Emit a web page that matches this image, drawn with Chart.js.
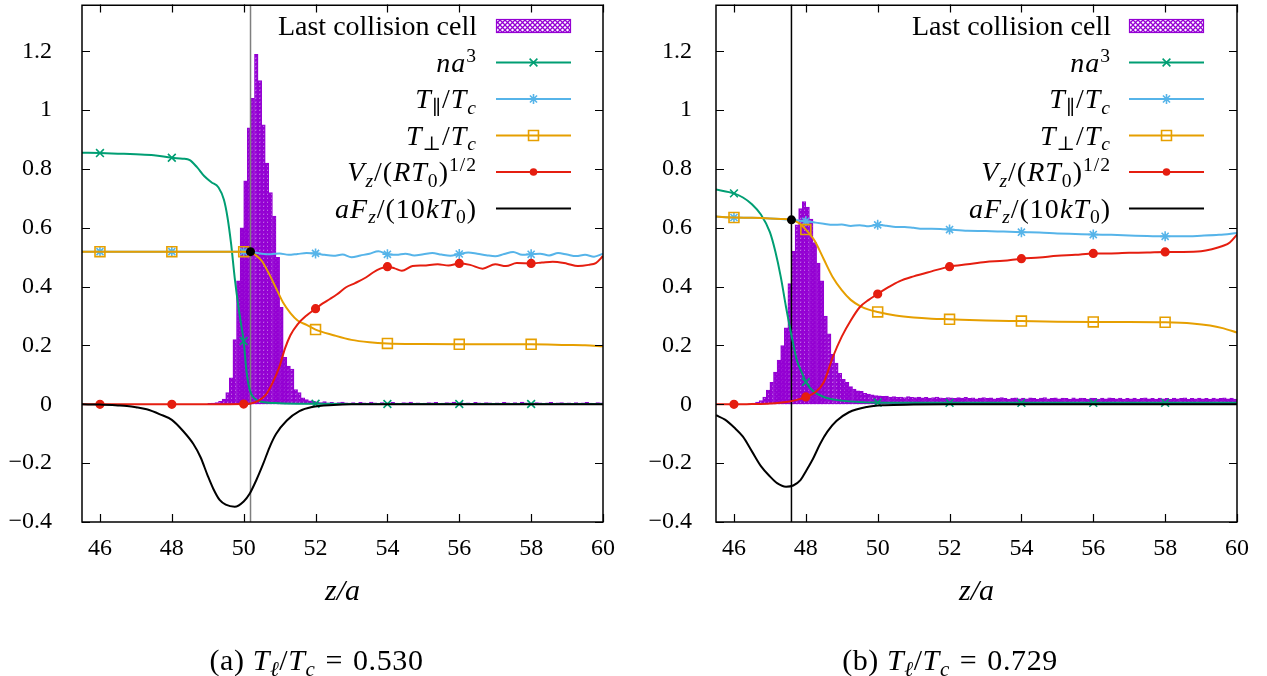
<!DOCTYPE html>
<html><head><meta charset="utf-8">
<script src="https://cdn.jsdelivr.net/npm/chart.js@4.4.1/dist/chart.umd.min.js"></script>
<style>
html,body{margin:0;padding:0;background:#fff;}
body{width:1267px;height:676px;position:relative;overflow:hidden;font-family:"Liberation Serif","DejaVu Serif",serif;color:#000;}
.panel{position:absolute;top:0;height:676px;}
#p1{left:0;width:633px;} #p2{left:633px;width:634px;}
.panel canvas{position:absolute;left:0;top:0;}
.leg{position:absolute;right:156px;height:30px;line-height:30px;white-space:nowrap;font-size:28px;text-align:right;}
.leg.m{letter-spacing:1px;}
.cap{position:absolute;left:0;right:0;top:642px;height:36px;line-height:36px;text-align:center;font-size:30px;white-space:nowrap;letter-spacing:0.6px;}
.cap .eq{display:inline-block;margin:0 10px;}
sub,sup{font-size:70%;line-height:0;position:relative;vertical-align:baseline;}
sup{top:-0.5em;} sub{top:0.3em;}
</style>
</head><body>
<div class="panel" id="p1"><canvas id="c1" width="633" height="676" style="width:633px;height:676px"></canvas></div>
<div class="panel" id="p2"><canvas id="c2" width="634" height="676" style="width:634px;height:676px"></canvas></div>
<script>
// ---------- axis ticks ----------
const xTickValues = [46,48,50,52,54,56,58,60];
const yTickValues = [-0.4,-0.2,0,0.2,0.4,0.6,0.8,1,1.2];
const markerZ = [46,48,50,52,54,56,58];
const xMin = 45.5, xMax = 60, yMin = -0.4, yMax = 1.359;

// ---------- legend / captions ----------
const legendLabels = [
  'Last collision cell',
  '<i>na</i><sup>3</sup>',
  '<i>T</i><sub>∥</sub>/<i>T<sub>c</sub></i>',
  '<i>T</i><sub>⊥</sub>/<i>T<sub>c</sub></i>',
  '<i>V<sub>z</sub></i>/(<i>RT</i><sub>0</sub>)<sup>1/2</sup>',
  '<i>aF<sub>z</sub></i>/(10<i>kT</i><sub>0</sub>)'
];
const captions = [
  '(a)&nbsp;<i>T</i><sub><i>ℓ</i></sub>/<i>T<sub>c</sub></i><span class="eq">=</span>0.530',
  '(b)&nbsp;<i>T</i><sub><i>ℓ</i></sub>/<i>T<sub>c</sub></i><span class="eq">=</span>0.729'
];

// ---------- histogram (bin width 0.1) ----------
const histBin = 0.1;
const leftHistStart = 49.0;
const leftHist = [
 0.003,0.004,0.006,0.010,0.018,0.040,0.090,0.220,0.420,0.600,
 0.760,0.940,1.040,1.190,1.100,0.950,0.820,0.720,0.640,0.500,
 0.330,0.160,0.130,0.120,0.050,0.040,0.022,0.016,0.012,0.010,
 0.008,0.006,0.009,0.005,0.007,0.004,0.006,0.008,0.005,0.004,
 0.006,0.003,0.007,0.005,0.004,0.008,0.005,0.003,0.006,0.004,
 0.005,0.007,0.004,0.003,0.006,0.005,0.008,0.004,0.005,0.003,
 0.004,0.006,0.005,0.007,0.003,0.004,0.006,0.005,0.008,0.004,
 0.006,0.004,0.005,0.003,0.007,0.005,0.004,0.006,0.005,0.003,
 0.005,0.004,0.007,0.005,0.003,0.006,0.004,0.008,0.005,0.004,
 0.004,0.006,0.005,0.003,0.005,0.007,0.004,0.005,0.006,0.004,
 0.005,0.003,0.006,0.004,0.005,0.007,0.004,0.003,0.006,0.005
];
const rightHistStart = 46.4;
const rightHist = [
 0.002,0.004,0.008,0.013,0.025,0.048,0.075,0.110,0.150,0.200,
 0.260,0.410,0.520,0.610,0.665,0.689,0.670,0.630,0.550,0.480,
 0.420,0.300,0.240,0.170,0.140,0.105,0.085,0.075,0.060,0.052,
 0.046,0.044,0.037,0.035,0.032,0.030,
 0.029,0.027,0.028,0.025,0.026,0.024,0.025,0.023,0.026,0.024,
 0.023,0.025,0.022,0.024,0.021,0.023,0.025,0.022,0.020,0.023,
 0.022,0.020,0.023,0.021,0.024,0.020,0.022,0.019,0.021,0.023,
 0.020,0.022,0.019,0.021,0.023,0.020,0.018,0.021,0.022,0.019,
 0.021,0.019,0.022,0.020,0.018,0.021,0.023,0.019,0.020,0.022,
 0.019,0.021,0.020,0.018,0.022,0.019,0.021,0.020,0.018,0.021,
 0.020,0.018,0.021,0.019,0.022,0.020,0.019,0.021,0.018,0.020,
 0.019,0.021,0.018,0.020,0.022,0.019,0.020,0.018,0.021,0.019,
 0.020,0.018,0.021,0.019,0.020,0.022,0.018,0.020,0.019,0.021,
 0.019,0.020,0.018,0.021,0.019,0.020,0.022,0.019,0.021,0.018
];

// ---------- panel (a) series [z/a, value] ----------
const leftNa3 = [[45.5,0.855],[46,0.854],[46.5,0.852],[47,0.85],[47.5,0.847],[48,0.838],[48.3,0.835],[48.5,0.83],[48.7,0.806],[48.9,0.776],[49.1,0.755],[49.3,0.737],[49.45,0.695],[49.55,0.635],[49.65,0.545],[49.75,0.43],[49.85,0.335],[49.93,0.27],[50,0.215],[50.08,0.11],[50.17,0.048],[50.3,0.02],[50.5,0.009],[51,0.004],[52,0.002],[53,0.001],[54,0.001],[55,0.001],[56,0.001],[57,0.001],[58,0.001],[59,0.001],[60,0.001]];
const leftTpar = [[45.5,0.519],[46,0.519],[47,0.519],[48,0.519],[49,0.519],[50,0.519],[50.2,0.517],[50.35,0.515],[50.5,0.512],[50.75,0.51],[51,0.513],[51.25,0.508],[51.5,0.511],[51.75,0.514],[52,0.513],[52.25,0.508],[52.5,0.505],[52.75,0.509],[53,0.5],[53.25,0.506],[53.5,0.512],[53.75,0.52],[54,0.51],[54.25,0.508],[54.5,0.512],[54.75,0.506],[55,0.51],[55.25,0.514],[55.5,0.509],[55.75,0.505],[56,0.511],[56.25,0.516],[56.5,0.512],[56.75,0.507],[57,0.503],[57.25,0.511],[57.5,0.518],[57.75,0.508],[58,0.51],[58.25,0.512],[58.5,0.506],[58.75,0.514],[59,0.509],[59.25,0.504],[59.5,0.508],[59.75,0.502],[60,0.512]];
const leftTperp = [[45.5,0.519],[46,0.519],[47,0.519],[48,0.519],[49,0.519],[50,0.519],[50.2,0.518],[50.3,0.51],[50.5,0.488],[50.7,0.445],[50.9,0.395],[51.1,0.345],[51.3,0.31],[51.5,0.285],[51.75,0.27],[52,0.254],[52.5,0.235],[53,0.219],[53.5,0.211],[54,0.207],[55,0.205],[56,0.204],[57,0.204],[58,0.204],[59,0.202],[59.5,0.201],[60,0.197]];
const leftVz = [[45.5,0],[46,0],[47,0],[48,0],[49,0],[49.5,0.0005],[50,0.001],[50.2,0.003],[50.4,0.012],[50.6,0.03],[50.8,0.072],[51,0.13],[51.15,0.19],[51.3,0.235],[51.5,0.272],[51.75,0.302],[52,0.325],[52.2,0.343],[52.4,0.358],[52.6,0.374],[52.85,0.398],[53.1,0.412],[53.4,0.431],[53.6,0.448],[53.8,0.461],[54,0.468],[54.2,0.462],[54.4,0.454],[54.7,0.47],[55,0.472],[55.4,0.476],[55.7,0.472],[56,0.479],[56.3,0.474],[56.65,0.461],[57,0.476],[57.3,0.47],[57.6,0.48],[58,0.479],[58.3,0.482],[58.6,0.485],[59,0.478],[59.3,0.47],[59.6,0.474],[59.8,0.48],[60,0.504]];
const leftFz = [[45.5,0],[46,-0.001],[46.5,-0.004],[46.75,-0.006],[47,-0.01],[47.3,-0.017],[47.67,-0.034],[48,-0.053],[48.3,-0.089],[48.6,-0.135],[48.8,-0.18],[49,-0.243],[49.15,-0.286],[49.33,-0.325],[49.5,-0.341],[49.75,-0.348],[50,-0.33],[50.17,-0.303],[50.35,-0.258],[50.55,-0.2],[50.72,-0.146],[50.9,-0.101],[51.2,-0.055],[51.55,-0.023],[51.9,-0.009],[52.5,-0.002],[53,0],[60,0]];
const leftCut = [50.19, 0.519];

// ---------- panel (b) series ----------
const rightNa3 = [[45.5,0.73],[46,0.717],[46.25,0.703],[46.5,0.68],[46.75,0.645],[47,0.585],[47.15,0.52],[47.3,0.435],[47.45,0.33],[47.6,0.235],[47.75,0.15],[47.9,0.105],[48,0.076],[48.2,0.045],[48.5,0.025],[48.8,0.016],[49.2,0.01],[50,0.006],[51,0.005],[52,0.005],[53,0.005],[54,0.005],[55,0.005],[56,0.005],[57,0.005],[58,0.005],[59,0.005],[60,0.005]];
const rightTpar = [[45.5,0.638],[46,0.635],[46.5,0.634],[47,0.632],[47.3,0.63],[47.6,0.627],[47.8,0.625],[48,0.622],[48.25,0.618],[48.5,0.614],[48.75,0.61],[49,0.611],[49.25,0.606],[49.5,0.609],[49.75,0.605],[50,0.61],[50.25,0.607],[50.5,0.603],[50.75,0.603],[51,0.6],[51.25,0.597],[51.5,0.597],[51.75,0.596],[52,0.594],[52.5,0.59],[53,0.589],[53.5,0.587],[54,0.585],[54.5,0.584],[55,0.581],[55.5,0.579],[56,0.577],[56.5,0.576],[57,0.574],[57.5,0.572],[58,0.571],[58.5,0.571],[59,0.573],[59.5,0.576],[60,0.582]];
const rightTperp = [[45.5,0.638],[46,0.635],[46.5,0.634],[47,0.632],[47.3,0.63],[47.6,0.627],[47.8,0.617],[47.9,0.607],[48,0.594],[48.1,0.58],[48.25,0.555],[48.5,0.493],[48.75,0.432],[49,0.388],[49.25,0.355],[49.5,0.335],[49.75,0.322],[50,0.314],[50.5,0.302],[51,0.295],[51.5,0.291],[52,0.289],[53,0.285],[54,0.283],[55,0.281],[56,0.28],[57,0.28],[58,0.279],[58.75,0.275],[59.25,0.268],[59.6,0.259],[60,0.244]];
const rightVz = [[45.5,0],[46,0],[46.5,0.001],[47,0.003],[47.5,0.009],[47.75,0.015],[48,0.025],[48.25,0.04],[48.5,0.075],[48.75,0.16],[49,0.23],[49.25,0.285],[49.5,0.33],[49.75,0.355],[50,0.375],[50.3,0.398],[50.6,0.418],[51,0.435],[51.5,0.452],[52,0.468],[52.5,0.476],[53,0.484],[53.5,0.488],[54,0.495],[54.5,0.499],[55,0.505],[55.5,0.508],[56,0.513],[56.5,0.513],[57,0.515],[57.5,0.516],[58,0.518],[58.5,0.518],[59,0.52],[59.3,0.527],[59.6,0.538],[59.8,0.55],[60,0.577]];
const rightFz = [[45.5,-0.037],[45.75,-0.052],[46,-0.078],[46.25,-0.11],[46.5,-0.16],[46.75,-0.21],[47,-0.245],[47.2,-0.268],[47.45,-0.28],[47.65,-0.276],[47.85,-0.258],[48,-0.228],[48.2,-0.185],[48.4,-0.134],[48.6,-0.093],[48.85,-0.057],[49.2,-0.027],[49.7,-0.009],[50.2,-0.003],[51,-0.001],[52,0],[54,0],[56,0],[58,0],[60,0]];
const rightCut = [47.6, 0.627];

// ---------- styles ----------
const C = {hist:'#9400D3', na3:'#009E73', tpar:'#56B4E9', tperp:'#E69F00', vz:'#E51E10', fz:'#000000'};
const FONT = '"Liberation Serif","DejaVu Serif",serif';
Chart.defaults.font.family = FONT;
Chart.defaults.color = '#000';

function hatchPattern(ctx, bg, n, lw){
  const c = document.createElement('canvas'); c.width = n; c.height = n;
  const g = c.getContext('2d');
  g.fillStyle = bg; g.fillRect(0,0,n,n);
  g.strokeStyle = C.hist; g.lineWidth = lw;
  g.beginPath(); g.moveTo(-1,-1); g.lineTo(n+1,n+1); g.moveTo(n+1,-1); g.lineTo(-1,n+1); g.stroke();
  return ctx.createPattern(c,'repeat');
}
const pts = arr => arr.map(p => ({x:p[0], y:p[1]}));
const markR = r => (c => (c.raw && markerZ.includes(c.raw.x)) ? r : 0);
function fmtY(v){ const r = Math.round(v*10)/10; if (Math.abs(r)<1e-9) return '0'; return String(r).replace('-', '\u2212'); }

const lineStyles = [
  {key:'na3', style:'crossRot', r:5.5, fill:false},
  {key:'tpar', style:'star', r:5, fill:false},
  {key:'tperp', style:'rect', r:7, fill:false},
  {key:'vz', style:'circle', r:3.8, fill:true},
  {key:'fz', style:false, r:0, fill:false}
];

function drawMarker(ctx, style, x, y, r, color, fill){
  ctx.save(); ctx.strokeStyle = color; ctx.fillStyle = fill ? color : 'rgba(0,0,0,0)'; ctx.lineWidth = 1.6;
  ctx.beginPath();
  if (style === 'crossRot'){ const d = r*Math.SQRT1_2; ctx.moveTo(x-d,y-d); ctx.lineTo(x+d,y+d); ctx.moveTo(x+d,y-d); ctx.lineTo(x-d,y+d); ctx.stroke(); }
  else if (style === 'star'){ const d = r*Math.SQRT1_2; ctx.moveTo(x-d,y-d); ctx.lineTo(x+d,y+d); ctx.moveTo(x+d,y-d); ctx.lineTo(x-d,y+d); ctx.moveTo(x,y-r); ctx.lineTo(x,y+r); ctx.moveTo(x-r,y); ctx.lineTo(x+r,y); ctx.stroke(); }
  else if (style === 'rect'){ const d = r*Math.SQRT1_2; ctx.rect(x-d,y-d,2*d,2*d); ctx.stroke(); }
  else if (style === 'circle'){ ctx.arc(x,y,r,0,Math.PI*2); ctx.fill(); }
  ctx.restore();
}

const gnuFrame = {
  id:'gnuFrame',
  afterDatasetsDraw(chart, args, opts){
    const {ctx, chartArea:a, scales:{x, y}} = chart;
    ctx.save();
    ctx.strokeStyle = '#000'; ctx.lineWidth = 1.2;
    ctx.beginPath();
    xTickValues.forEach(v => { const px = Math.round(x.getPixelForValue(v))+0.5; ctx.moveTo(px,a.bottom); ctx.lineTo(px,a.bottom-8); ctx.moveTo(px,a.top); ctx.lineTo(px,a.top+8); });
    yTickValues.forEach(v => { const py = Math.round(y.getPixelForValue(v))+0.5; ctx.moveTo(a.left,py); ctx.lineTo(a.left+8,py); ctx.moveTo(a.right,py); ctx.lineTo(a.right-8,py); });
    ctx.stroke();
    ctx.lineWidth = 1.5;
    ctx.strokeRect(a.left, a.top+0.75, a.right-a.left, a.bottom-a.top-0.75);
    // legend samples
    const x0 = opts.x0, x1 = opts.x1, xm = (x0+x1)/2;
    const rows = opts.rows;
    ctx.fillStyle = opts.swatch; ctx.strokeStyle = C.hist; ctx.lineWidth = 1.2;
    ctx.fillRect(x0, rows[0]-7, x1-x0, 14); ctx.strokeRect(x0+0.5, rows[0]-6.5, x1-x0-1, 13);
    lineStyles.forEach((s,i) => {
      const yy = rows[i+1];
      ctx.strokeStyle = C[s.key]; ctx.lineWidth = 2;
      ctx.beginPath(); ctx.moveTo(x0,yy); ctx.lineTo(x1,yy); ctx.stroke();
      if (s.style) drawMarker(ctx, s.style, xm, yy, s.r, C[s.key], s.fill);
    });
    ctx.restore();
  }
};

const legendRows = [26,62.5,99,135.5,172,208.5];

function makePanel(id, panelDiv, cfg, caption){
  const canvas = document.getElementById(id);
  const ctx = canvas.getContext('2d');
  const barPattern = hatchPattern(ctx, '#ffffff', 4, 2.0);
  const swatch = hatchPattern(ctx, '#ffffff', 5, 1.3);
  const histData = cfg.hist.map((v,i) => ({x: +(cfg.histStart + (i+0.5)*histBin).toFixed(3), y: v}));
  const series = [cfg.na3, cfg.tpar, cfg.tperp, cfg.vz, cfg.fz];
  const datasets = [{
    type:'bar', label:'Last collision cell', data: histData, order: 20,
    backgroundColor: barPattern, borderColor: C.hist, borderWidth: 1, borderSkipped:'start',
    barPercentage: 1, categoryPercentage: 1
  },{
    type:'line', label:'cut', data:[{x:cfg.cut[0], y:yMin},{x:cfg.cut[0], y:yMax}], order: 19,
    borderColor: cfg.cutColor, borderWidth: 1.5, pointRadius: 0, tension: 0
  }];
  lineStyles.forEach((s,i) => {
    datasets.push({
      type:'line', label:s.key, data: pts(series[i]), order: 15 - i,
      borderColor: C[s.key], borderWidth: 2, cubicInterpolationMode:'monotone',
      pointStyle: s.style || 'circle', pointRadius: s.style ? markR(s.r) : 0,
      pointBorderColor: C[s.key], pointBackgroundColor: s.fill ? C[s.key] : 'rgba(0,0,0,0)',
      pointBorderWidth: 1.6
    });
  });
  datasets.push({type:'line', label:'dot', data:[{x:cfg.cut[0], y:cfg.cut[1]}], order: 1, showLine:false,
    pointRadius: 4.5, pointStyle:'circle', pointBackgroundColor:'#000', pointBorderColor:'#000', pointBorderWidth:0});

  new Chart(ctx, {
    type:'line',
    data:{datasets},
    options:{
      responsive:false, animation:false, events:[],
      layout:{padding:{left:0, right:30, top:0, bottom:0}},
      plugins:{legend:{display:false}, tooltip:{enabled:false}, gnuFrame:{x0:496, x1:571, rows:legendRows, swatch}},
      scales:{
        x:{type:'linear', min:xMin, max:xMax, offset:false,
           grid:{display:false, drawTicks:false}, border:{display:false},
           afterBuildTicks: s => { s.ticks = xTickValues.map(v => ({value:v})); },
           afterFit: s => { s.height = 154; s.paddingLeft = 0; s.paddingRight = 0; },
           ticks:{autoSkip:false, maxRotation:0, padding:12, font:{size:24, family:FONT}, color:'#000', callback: v => String(v)},
           title:{display:true, text:'z/a', font:{size:30, family:FONT, style:'italic'}, color:'#000', padding:{top:0, bottom:66}}},
        y:{type:'linear', min:yMin, max:yMax,
           grid:{display:false, drawTicks:false}, border:{display:false},
           afterBuildTicks: s => { s.ticks = yTickValues.map(v => ({value:v})); },
           afterFit: s => { s.width = cfg.axisW; s.paddingTop = 0; s.paddingBottom = 0; },
           ticks:{autoSkip:false, padding:cfg.yPad, font:{size:24, family:FONT}, color:'#000', callback: v => fmtY(v)}}
      }
    },
    plugins:[gnuFrame]
  });

  const holder = document.getElementById(panelDiv);
  legendLabels.forEach((t,i) => {
    const d = document.createElement('div'); d.className = 'leg' + (i>0 ? ' m' : ''); d.innerHTML = t;
    d.style.top = (legendRows[i]-15) + 'px'; holder.appendChild(d);
  });
  const cp = document.createElement('div'); cp.className = 'cap'; cp.innerHTML = caption; holder.appendChild(cp);
}

makePanel('c1','p1',{hist:leftHist, histStart:leftHistStart, na3:leftNa3, tpar:leftTpar, tperp:leftTperp, vz:leftVz, fz:leftFz, cut:leftCut, cutColor:'#7f7f7f', axisW:82, yPad:30}, captions[0]);
makePanel('c2','p2',{hist:rightHist, histStart:rightHistStart, na3:rightNa3, tpar:rightTpar, tperp:rightTperp, vz:rightVz, fz:rightFz, cut:rightCut, cutColor:'#000000', axisW:83, yPad:24}, captions[1]);
</script>
</body></html>
